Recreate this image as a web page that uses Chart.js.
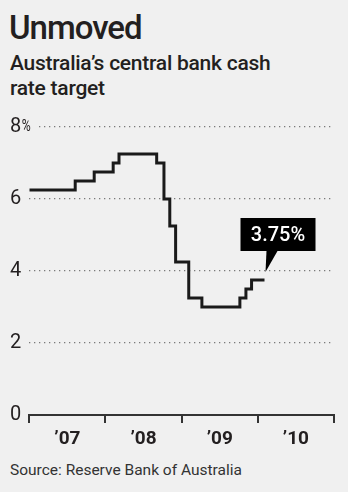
<!DOCTYPE html>
<html>
<head>
<meta charset="utf-8">
<script src="https://cdn.jsdelivr.net/npm/chart.js@4/dist/chart.umd.min.js"></script>
<style>
  html, body { margin: 0; padding: 0; }
  body { width: 348px; height: 492px; background: #f0f0f0; position: relative; overflow: hidden; font-family: Roboto, "Noto Sans", sans-serif; color: #231f20; }
  #title { position: absolute; left: 9px; top: 11px; font-size: 33px; line-height: 33px; font-weight: 500; letter-spacing: -1px; }
  #sub { position: absolute; left: 10px; top: 51px; font-size: 21px; line-height: 25px; font-weight: 500; letter-spacing: -0.25px; }
  #source { position: absolute; left: 10px; top: 463px; font-size: 15.5px; line-height: 15px; color: #333; }
  #chart { position: absolute; left: 0; top: 110px; }
</style>
</head>
<body>
<div id="title">Unmoved</div>
<div id="sub">Australia’s central bank cash<br>rate target</div>
<canvas id="chart" width="348" height="345"></canvas>
<div id="source">Source: Reserve Bank of Australia</div>
<script>
// RBA cash rate target decisions (date the new rate took effect)
const changeDates = ['2007-01-01', '2007-08-09', '2007-11-08', '2008-02-07', '2008-03-06',
    '2008-09-03', '2008-10-08', '2008-11-05', '2008-12-03', '2009-02-04', '2009-04-08',
    '2009-10-07', '2009-11-05', '2009-12-02', '2010-02-02'];
const cashRate = [6.25, 6.50, 6.75, 7.00, 7.25, 7.00, 6.00, 5.25, 4.25, 3.25, 3.00, 3.25, 3.50, 3.75, 3.75];
const yearLabels = ['’07', '’08', '’09', '’10'];
const firstYear = 2007;
const yTicks = [0, 2, 4, 6, 8];

function toYear(s) {
    let d = new Date(s + 'T00:00:00Z');
    let start = Date.UTC(d.getUTCFullYear(), 0, 1);
    let end = Date.UTC(d.getUTCFullYear() + 1, 0, 1);
    return d.getUTCFullYear() + (d - start) / (end - start);
}

const points = changeDates.map((d, i) => ({x: toYear(d), y: cashRate[i]}));
const topTick = yTicks[yTicks.length - 1];

// narrow percent sign after the top y label, with a gap in the grid line
const percentPlugin = {
    id: 'percent',
    afterDraw(chart) {
        let ctx = chart.ctx;
        let y = chart.scales.y.getPixelForValue(topTick);
        ctx.save();
        ctx.font = '20px Roboto';
        let x = chart.scales.y.left + ctx.measureText(String(topTick)).width;
        ctx.fillStyle = '#f0f0f0';
        ctx.fillRect(x, y - 4, 36 - x, 8);
        ctx.translate(x + 0.5, y + 4);
        ctx.scale(0.72, 1);
        ctx.font = '17px Roboto';
        ctx.fillStyle = '#231f20';
        ctx.textAlign = 'left';
        ctx.textBaseline = 'alphabetic';
        ctx.fillText('%', 0, 0);
        ctx.restore();
    }
};

const calloutPlugin = {
    id: 'callout',
    afterDatasetsDraw(chart) {
        let meta = chart.getDatasetMeta(0);
        let last = meta.data[meta.data.length - 1];
        let ctx = chart.ctx;
        let tipX = last.x + 1, tipY = last.y - 8;
        let boxBottom = tipY - 21, boxTop = boxBottom - 33;
        let boxLeft = tipX - 25, boxRight = tipX + 50;
        ctx.save();
        ctx.fillStyle = '#000';
        ctx.fillRect(boxLeft, boxTop, boxRight - boxLeft, boxBottom - boxTop);
        ctx.beginPath();
        ctx.moveTo(tipX, tipY);
        ctx.lineTo(tipX + 1, boxBottom);
        ctx.lineTo(tipX + 12, boxBottom);
        ctx.closePath();
        ctx.fill();
        ctx.fillStyle = '#fff';
        ctx.font = '500 20px Roboto';
        ctx.textAlign = 'center';
        ctx.textBaseline = 'middle';
        ctx.fillText(cashRate[cashRate.length - 1].toFixed(2) + '%', (boxLeft + boxRight) / 2, (boxTop + boxBottom) / 2 + 1);
        ctx.restore();
    }
};

new Chart(document.getElementById('chart').getContext('2d'), {
    type: 'line',
    data: {
        datasets: [{
            data: points,
            borderColor: '#1a1a1a',
            borderWidth: 3,
            stepped: true,
            pointRadius: 0,
            fill: false,
        }]
    },
    options: {
        responsive: false,
        devicePixelRatio: 1,
        animation: false,
        layout: { padding: { top: 17, left: 10, right: 14, bottom: 0 } },
        plugins: { legend: { display: false }, tooltip: { enabled: false } },
        scales: {
            x: {
                type: 'linear',
                min: firstYear,
                max: firstYear + yearLabels.length,
                afterFit: s => { s.height = 40; },
                afterBuildTicks: s => {
                    let t = [];
                    for (let i = 0; i <= yearLabels.length * 2; i++) t.push({value: firstYear + i / 2});
                    s.ticks = t;
                },
                ticks: {
                    autoSkip: false,
                    maxRotation: 0,
                    padding: 5,
                    color: '#231f20',
                    font: { family: 'Roboto', size: 19, weight: 'bold' },
                    callback: v => (v % 1 === 0.5) ? yearLabels[Math.floor(v) - firstYear] : ''
                },
                grid: {
                    drawOnChartArea: false,
                    drawTicks: true,
                    tickLength: 8,
                    lineWidth: 2,
                    color: c => (c.tick && c.tick.value % 1 === 0) ? '#333' : 'rgba(0,0,0,0)'
                },
                border: { display: true, color: '#333', width: 2 }
            },
            y: {
                min: 0,
                max: topTick,
                afterFit: s => { s.width = 19.3; },
                afterBuildTicks: s => { s.ticks = yTicks.map(v => ({value: v})); },
                ticks: {
                    crossAlign: 'far',
                    color: '#231f20',
                    font: { family: 'Roboto', size: 20 },
                    callback: v => String(v)
                },
                grid: {
                    drawTicks: false,
                    lineWidth: 1.3,
                    color: c => (c.tick && c.tick.value === 0) ? 'rgba(0,0,0,0)' : '#7a7a7a'
                },
                border: { display: false, dash: [1.3, 3.7] }
            }
        }
    },
    plugins: [calloutPlugin, percentPlugin]
});
</script>
</body>
</html>
